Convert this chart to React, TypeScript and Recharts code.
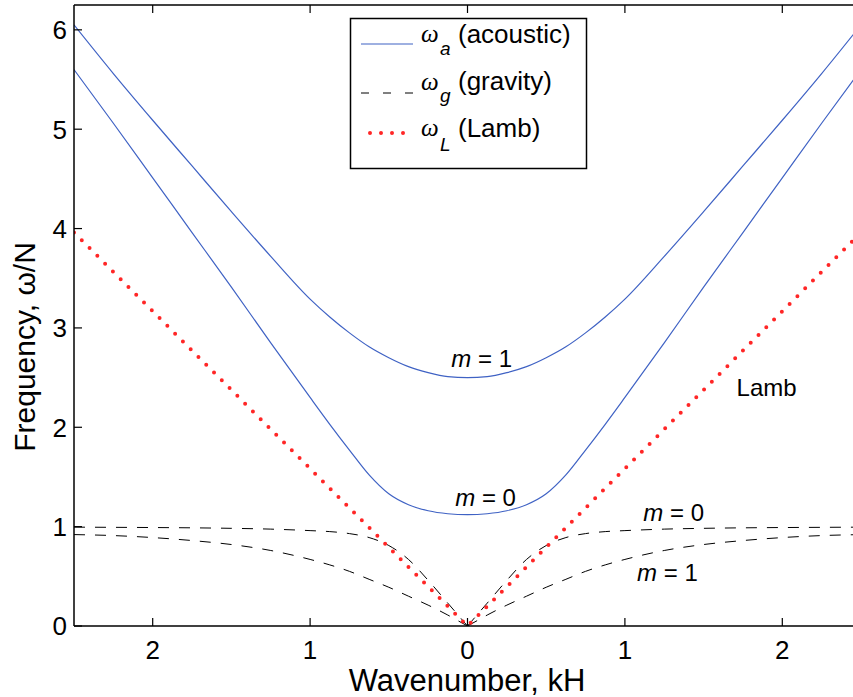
import React from 'react';
import { LineChart, Line, XAxis, YAxis, ReferenceLine, ReferenceDot } from 'recharts';

// ---------- data ----------
const K_ACOUSTIC = [-2.5, -2.25, -2, -1.75, -1.5, -1.25, -1, -0.875, -0.75, -0.625, -0.5, -0.375, -0.25, -0.125, 0,
  0.125, 0.25, 0.375, 0.5, 0.625, 0.75, 0.875, 1, 1.25, 1.5, 1.75, 2, 2.25, 2.5];
const OMEGA_A_M1 = [6.05, 5.56, 5.09, 4.63, 4.17, 3.72, 3.29, 3.11, 2.95, 2.81, 2.7, 2.61, 2.55, 2.51, 2.5,
  2.51, 2.55, 2.61, 2.7, 2.81, 2.95, 3.11, 3.29, 3.72, 4.17, 4.63, 5.09, 5.56, 6.05];
const OMEGA_A_M0 = [5.6, 5.06, 4.51, 3.96, 3.41, 2.85, 2.3, 2.03, 1.77, 1.52, 1.33, 1.22, 1.16, 1.13, 1.12,
  1.13, 1.16, 1.22, 1.33, 1.52, 1.77, 2.03, 2.3, 2.85, 3.41, 3.96, 4.51, 5.06, 5.6];

const K_GRAV_LEFT = [-2.5, -2.25, -2, -1.75, -1.5, -1.25, -1, -0.875, -0.75, -0.625, -0.5, -0.375, -0.25, -0.125, -0.0625, 0];
const OMEGA_G_M0_LEFT = [0.995, 0.993, 0.991, 0.988, 0.983, 0.975, 0.96, 0.95, 0.93, 0.89, 0.81, 0.67, 0.46, 0.23, 0.115, 0];
const OMEGA_G_M1_LEFT = [0.92, 0.91, 0.89, 0.86, 0.82, 0.76, 0.67, 0.615, 0.55, 0.47, 0.39, 0.3, 0.21, 0.11, 0.055, 0];
const K_GRAV_RIGHT = [0, 0.0625, 0.125, 0.25, 0.375, 0.5, 0.625, 0.75, 0.875, 1, 1.25, 1.5, 1.75, 2, 2.25, 2.5];
const OMEGA_G_M0_RIGHT = [0, 0.115, 0.23, 0.46, 0.67, 0.81, 0.89, 0.93, 0.95, 0.96, 0.975, 0.983, 0.988, 0.991, 0.993, 0.995];
const OMEGA_G_M1_RIGHT = [0, 0.055, 0.11, 0.21, 0.3, 0.39, 0.47, 0.55, 0.615, 0.67, 0.76, 0.82, 0.86, 0.89, 0.91, 0.92];

const K_LAMB = [-2.5, 0, 2.5];
const OMEGA_LAMB = [3.96, 0, 3.96];

const X_TICKS = [-2, -1, 0, 1, 2];
const Y_TICKS = [0, 1, 2, 3, 4, 5, 6];

const ANNOTATIONS = [
  { k: 0.09, w: 2.61, m: '1' },
  { k: 0.115, w: 1.21, m: '0' },
  { k: 1.31, w: 1.06, m: '0' },
  { k: 1.27, w: 0.45, m: '1' },
];
const LAMB_LABEL = { k: 1.9, w: 2.31, text: 'Lamb' };

// ---------- build tables ----------
const acoustic = K_ACOUSTIC.map((k, i) => ({ k, m1: OMEGA_A_M1[i], m0: OMEGA_A_M0[i] }));
const gravLeft = K_GRAV_LEFT.map((k, i) => ({ k, g0: OMEGA_G_M0_LEFT[i], g1: OMEGA_G_M1_LEFT[i] }));
const gravRight = K_GRAV_RIGHT.map((k, i) => ({ k, g0: OMEGA_G_M0_RIGHT[i], g1: OMEGA_G_M1_RIGHT[i] }));
const lamb = K_LAMB.map((k, i) => ({ k, w: OMEGA_LAMB[i] }));

// ---------- styling ----------
const FONT = '"Liberation Sans", Arial, Helvetica, sans-serif';
const SERIF = '"Liberation Serif", "Times New Roman", serif';
const BLUE = '#3f62c4';
const RED = '#ff2626';
const PLOT = { left: 74, top: 5, bottom: 626 };
const TICK_LEN = 8;

const XTick = (props: any) => {
  const { x, payload } = props;
  return (
    <g>
      <line x1={x} x2={x} y1={PLOT.bottom} y2={PLOT.bottom - TICK_LEN} stroke="#000" strokeWidth={1.2} />
      <line x1={x} x2={x} y1={PLOT.top} y2={PLOT.top + TICK_LEN} stroke="#000" strokeWidth={1.2} />
      <text x={x} y={659} textAnchor="middle" fontSize={26} fontFamily={FONT} fill="#000">
        {Math.abs(payload.value)}
      </text>
    </g>
  );
};

const YTick = (props: any) => {
  const { y, payload } = props;
  return (
    <g>
      <line x1={PLOT.left} x2={PLOT.left + TICK_LEN} y1={y} y2={y} stroke="#000" strokeWidth={1.2} />
      <text x={67} y={y} dy="0.36em" textAnchor="end" fontSize={26} fontFamily={FONT} fill="#000">
        {payload.value}
      </text>
    </g>
  );
};

const annotationShape = (m: string) => (props: any) => (
  <text x={props.cx} y={props.cy} textAnchor="middle" fontSize={24} fontFamily={FONT} fill="#000">
    <tspan fontStyle="italic">m</tspan> = {m}
  </text>
);

const lambShape = (props: any) => (
  <text x={props.cx} y={props.cy} textAnchor="middle" fontSize={24} fontFamily={FONT} fill="#000">
    {LAMB_LABEL.text}
  </text>
);

const LEG_FONT = 26;

const Overlay = () => (
  <svg width={853} height={697} style={{ position: 'absolute', left: 0, top: 0, pointerEvents: 'none' }}>
    {/* axis titles */}
    <text x={467} y={691} textAnchor="middle" fontSize={31} fontFamily={FONT} fill="#000">
      Wavenumber, kH
    </text>
    <text x={0} y={0} transform="translate(35,347) rotate(-90)" textAnchor="middle" fontSize={30} fontFamily={FONT} fill="#000">
      Frequency, ω/N
    </text>
    {/* legend */}
    <g>
      <rect x={350.5} y={18.5} width={236} height={150} fill="#fff" stroke="#000" strokeWidth={1.5} />
      <line x1={361} x2={413} y1={44} y2={44} stroke={BLUE} strokeWidth={1.2} />
      <text x={421} y={42} fontSize={25} fontFamily={SERIF} fontStyle="italic" fill="#000">ω</text>
      <text x={440} y={55} fontSize={19} fontFamily={FONT} fontStyle="italic" fill="#000">a</text>
      <text x={458} y={43} fontSize={LEG_FONT} fontFamily={FONT} fill="#000">(acoustic)</text>

      <line x1={361} x2={413} y1={93} y2={93} stroke="#000" strokeWidth={1} strokeDasharray="8 14" />
      <text x={421} y={90} fontSize={25} fontFamily={SERIF} fontStyle="italic" fill="#000">ω</text>
      <text x={440} y={102} fontSize={19} fontFamily={FONT} fontStyle="italic" fill="#000">g</text>
      <text x={458} y={90} fontSize={LEG_FONT} fontFamily={FONT} fill="#000">(gravity)</text>

      <line x1={370} x2={404} y1={133} y2={133} stroke={RED} strokeWidth={4} strokeLinecap="round" strokeDasharray="0 11" />
      <text x={421} y={136} fontSize={25} fontFamily={SERIF} fontStyle="italic" fill="#000">ω</text>
      <text x={440} y={151} fontSize={19} fontFamily={FONT} fontStyle="italic" fill="#000">L</text>
      <text x={458} y={137} fontSize={LEG_FONT} fontFamily={FONT} fill="#000">(Lamb)</text>
    </g>
  </svg>
);

export default function App() {
  return (
    <div style={{ position: 'absolute', left: 0, top: 0, width: 853, height: 697, overflow: 'hidden', background: '#fff' }}>
      <LineChart width={870} height={697} margin={{ top: 5, right: 9, bottom: 0, left: 0 }}>
        <XAxis
          type="number"
          dataKey="k"
          domain={[-2.5, 2.5]}
          ticks={X_TICKS}
          interval={0}
          allowDataOverflow
          height={71}
          axisLine={{ stroke: '#000', strokeWidth: 1.5 }}
          tickLine={false}
          tick={<XTick />}
        />
        <YAxis
          type="number"
          domain={[0, 6.25]}
          ticks={Y_TICKS}
          interval={0}
          allowDataOverflow
          width={74}
          axisLine={{ stroke: '#000', strokeWidth: 1.5 }}
          tickLine={false}
          tick={<YTick />}
        />
        <ReferenceLine y={6.25} stroke="#000" strokeWidth={1.5} />
        <Line data={acoustic} dataKey="m1" type="monotone" stroke={BLUE} strokeWidth={1.2} dot={false} activeDot={false} isAnimationActive={false} />
        <Line data={acoustic} dataKey="m0" type="monotone" stroke={BLUE} strokeWidth={1.2} dot={false} activeDot={false} isAnimationActive={false} />
        <Line data={gravLeft} dataKey="g0" type="monotone" stroke="#000" strokeWidth={1} strokeDasharray="11 10" dot={false} activeDot={false} isAnimationActive={false} />
        <Line data={gravLeft} dataKey="g1" type="monotone" stroke="#000" strokeWidth={1} strokeDasharray="11 10" dot={false} activeDot={false} isAnimationActive={false} />
        <Line data={gravRight} dataKey="g0" type="monotone" stroke="#000" strokeWidth={1} strokeDasharray="11 10" dot={false} activeDot={false} isAnimationActive={false} />
        <Line data={gravRight} dataKey="g1" type="monotone" stroke="#000" strokeWidth={1} strokeDasharray="11 10" dot={false} activeDot={false} isAnimationActive={false} />
        <Line data={lamb} dataKey="w" type="linear" stroke={RED} strokeWidth={4} strokeLinecap="round" strokeDasharray="0 11" dot={false} activeDot={false} isAnimationActive={false} />
        {ANNOTATIONS.map((a, i) => (
          <ReferenceDot key={i} x={a.k} y={a.w} r={0} shape={annotationShape(a.m)} />
        ))}
        <ReferenceDot x={LAMB_LABEL.k} y={LAMB_LABEL.w} r={0} shape={lambShape} />
      </LineChart>
      <Overlay />
    </div>
  );
}
